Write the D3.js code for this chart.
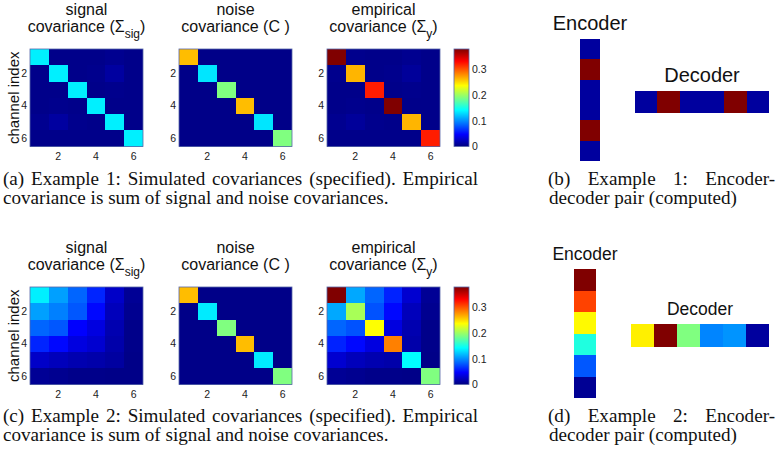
<!DOCTYPE html>
<html><head><meta charset="utf-8">
<script src="https://cdn.jsdelivr.net/npm/d3@7/dist/d3.min.js"></script>
<style>body{margin:0;background:#fff}svg{display:block}</style>
</head><body>
<svg id="c" width="777" height="449"></svg>
<script>
// ---------- data ----------
const idx = [1, 2, 3, 4, 5, 6];
const tickVals = [2, 4, 6];
const cbTicks = [0, 0.1, 0.2, 0.3];
const cbDomain = [0, 0.38];

const sig1 = [
  [0.137, 0.004, 0.004, 0.004, 0.006, 0.004],
  [0.004, 0.137, 0.004, 0.005, 0.012, 0.004],
  [0.004, 0.004, 0.137, 0.004, 0.005, 0.004],
  [0.004, 0.005, 0.004, 0.137, 0.004, 0.004],
  [0.006, 0.012, 0.005, 0.004, 0.137, 0.004],
  [0.004, 0.004, 0.004, 0.004, 0.004, 0.137]];
const noise1 = [
  [0.262, 0.003, 0.003, 0.003, 0.003, 0.003],
  [0.003, 0.133, 0.003, 0.003, 0.003, 0.003],
  [0.003, 0.003, 0.190, 0.003, 0.003, 0.003],
  [0.003, 0.003, 0.003, 0.262, 0.003, 0.003],
  [0.003, 0.003, 0.003, 0.003, 0.133, 0.003],
  [0.003, 0.003, 0.003, 0.003, 0.003, 0.190]];
const emp1 = [
  [0.400, 0.005, 0.004, 0.004, 0.006, 0.004],
  [0.005, 0.265, 0.004, 0.005, 0.010, 0.004],
  [0.004, 0.004, 0.322, 0.004, 0.005, 0.004],
  [0.004, 0.005, 0.004, 0.400, 0.004, 0.004],
  [0.006, 0.010, 0.005, 0.004, 0.265, 0.004],
  [0.004, 0.004, 0.004, 0.004, 0.004, 0.322]];
const sig2 = [
  [0.137, 0.107, 0.085, 0.061, 0.027, 0.008],
  [0.107, 0.095, 0.080, 0.050, 0.022, 0.006],
  [0.085, 0.080, 0.047, 0.036, 0.018, 0.004],
  [0.061, 0.050, 0.036, 0.030, 0.016, 0.004],
  [0.027, 0.022, 0.018, 0.016, 0.012, 0.003],
  [0.008, 0.006, 0.004, 0.004, 0.003, 0.003]];
const noise2 = [
  [0.262, 0.003, 0.003, 0.003, 0.003, 0.003],
  [0.003, 0.135, 0.003, 0.003, 0.003, 0.003],
  [0.003, 0.003, 0.190, 0.003, 0.003, 0.003],
  [0.003, 0.003, 0.003, 0.262, 0.003, 0.003],
  [0.003, 0.003, 0.003, 0.003, 0.135, 0.003],
  [0.003, 0.003, 0.003, 0.003, 0.003, 0.190]];
const emp2 = [
  [0.400, 0.110, 0.085, 0.060, 0.030, 0.008],
  [0.110, 0.205, 0.078, 0.050, 0.022, 0.006],
  [0.085, 0.078, 0.237, 0.036, 0.018, 0.004],
  [0.060, 0.050, 0.036, 0.285, 0.016, 0.004],
  [0.030, 0.022, 0.018, 0.016, 0.142, 0.003],
  [0.008, 0.006, 0.004, 0.004, 0.003, 0.190]];

// encoder / decoder weights (normalised 0..1 on the jet map)
const enc1 = [0.03, 1, 0.03, 0.03, 1, 0.03];
const dec1 = [0.03, 1, 0.03, 0.03, 1, 0.03];
const enc2 = [1, 0.81, 0.63, 0.405, 0.21, 0.02];
const dec2 = [0.64, 1, 0.5, 0.255, 0.27, 0.03];

const captions = {
  a: ["(a) Example 1: Simulated covariances (specified). Empirical", "covariance is sum of signal and noise covariances."],
  b: ["(b) Example 1: Encoder-", "decoder pair (computed)"],
  c: ["(c) Example 2: Simulated covariances (specified). Empirical", "covariance is sum of signal and noise covariances."],
  d: ["(d) Example 2: Encoder-", "decoder pair (computed)"]
};

// ---------- helpers ----------
const svg = d3.select("#c");
const SANS = "'Liberation Sans', Arial, sans-serif";
const SERIF = "'Liberation Serif', 'Times New Roman', serif";

function jet(t) {
  t = Math.max(0, Math.min(1, t));
  const c = v => Math.round(255 * Math.max(0, Math.min(1, v)));
  return `rgb(${c(1.5 - Math.abs(4 * t - 3))},${c(1.5 - Math.abs(4 * t - 2))},${c(1.5 - Math.abs(4 * t - 1))})`;
}
const cScale = d3.scaleLinear().domain(cbDomain).range([0, 1]).clamp(true);
const colorOf = v => jet(cScale(v));

// gradient for colorbar
const defs = svg.append("defs");
const grad = defs.append("linearGradient").attr("id", "jetg")
  .attr("x1", 0).attr("y1", 1).attr("x2", 0).attr("y2", 0);
d3.range(0, 1.0001, 1 / 32).forEach(t => grad.append("stop").attr("offset", t).attr("stop-color", jet(t)));

const matX = [30, 179, 327];
const matW = 113;
const titles = [
  ["signal", "covariance (", "\u03A3", "sig", ")"],
  ["noise", "covariance (C )", null, null, null],
  ["empirical", "covariance (", "\u03A3", "y", ")"]
];

function drawPanel(top, mats) {
  const h = 97.5;
  mats.forEach((m, k) => {
    const g = svg.append("g");
    const x = d3.scaleBand().domain(idx).range([matX[k], matX[k] + matW]);
    const y = d3.scaleBand().domain(idx).range([top, top + h]);
    const cells = [];
    m.forEach((row, i) => row.forEach((v, j) => cells.push({ r: idx[i], c: idx[j], v })));
    g.selectAll("rect.cell").data(cells).join("rect")
      .attr("x", d => Math.round(x(d.c))).attr("y", d => Math.round(y(d.r)))
      .attr("width", d => Math.round(x(d.c) + x.bandwidth()) - Math.round(x(d.c)) + (d.c < 6 ? 1 : 0))
      .attr("height", d => Math.round(y(d.r) + y.bandwidth()) - Math.round(y(d.r)) + (d.r < 6 ? 1 : 0))
      .attr("shape-rendering", "crispEdges")
      .attr("fill", d => colorOf(d.v));
    g.append("rect").attr("x", matX[k]).attr("y", top).attr("width", matW).attr("height", h)
      .attr("fill", "none").attr("stroke", "#5866a8").attr("stroke-width", 0.8);
    // axes
    const xa = d3.axisBottom(x).tickValues(tickVals).tickSize(0).tickPadding(6);
    const ya = d3.axisLeft(y).tickValues(tickVals).tickSize(0).tickPadding(3);
    const gx = g.append("g").attr("transform", `translate(0,${top + h})`).call(xa);
    const gy = g.append("g").attr("transform", `translate(${matX[k]},0)`).call(ya);
    [gx, gy].forEach(a => {
      a.select(".domain").remove();
      a.selectAll("text").attr("font-family", SANS).attr("font-size", 10.5).attr("fill", "#222");
    });
    // titles
    const cx = matX[k] + matW / 2;
    const t = titles[k];
    g.append("text").attr("x", cx).attr("y", top - 34).attr("text-anchor", "middle")
      .attr("font-family", SANS).attr("font-size", 16).attr("fill", "#111").text(t[0]);
    const t2 = g.append("text").attr("x", cx).attr("y", top - 17).attr("text-anchor", "middle")
      .attr("font-family", SANS).attr("font-size", 16).attr("fill", "#111");
    t2.append("tspan").text(t[1]);
    if (t[2]) {
      t2.append("tspan").text(t[2]);
      t2.append("tspan").attr("dy", 6).attr("font-size", 12).text(t[3]);
      t2.append("tspan").attr("dy", -6).text(t[4]);
    }
  });
  // y label
  svg.append("text").attr("transform", `translate(19,${top + h / 2}) rotate(-90)`)
    .attr("text-anchor", "middle").attr("font-family", SANS).attr("font-size", 15).attr("fill", "#111")
    .text("channel index");
  // colorbar
  const cbx = 454, cbw = 15;
  const cy = d3.scaleLinear().domain(cbDomain).range([top + h, top]);
  svg.append("rect").attr("x", cbx).attr("y", top).attr("width", cbw).attr("height", h)
    .attr("fill", "url(#jetg)").attr("stroke", "#5866a8").attr("stroke-width", 0.8);
  const ca = d3.axisRight(cy).tickValues(cbTicks).tickSize(0).tickPadding(3)
    .tickFormat(d => d === 0 ? "0" : d3.format(".1f")(d));
  const gc = svg.append("g").attr("transform", `translate(${cbx + cbw},0)`).call(ca);
  gc.select(".domain").remove();
  gc.selectAll("text").attr("font-family", SANS).attr("font-size", 10.5).attr("fill", "#222");
}

function drawVec(vals, x0, y0, w, h, vertical) {
  const band = d3.scaleBand().domain(idx).range(vertical ? [y0, y0 + h] : [x0, x0 + w]);
  svg.append("g").selectAll("rect").data(vals.map((v, i) => ({ i: idx[i], v }))).join("rect")
    .attr("x", d => vertical ? x0 : Math.round(band(d.i)))
    .attr("y", d => vertical ? Math.round(band(d.i)) : y0)
    .attr("width", d => vertical ? w : Math.round(band(d.i) + band.bandwidth()) - Math.round(band(d.i)))
    .attr("height", d => vertical ? Math.round(band(d.i) + band.bandwidth()) - Math.round(band(d.i)) : h)
    .attr("shape-rendering", "crispEdges")
    .attr("fill", d => jet(d.v));
}

function label(txt, x, y, size) {
  svg.append("text").attr("x", x).attr("y", y).attr("text-anchor", "middle")
    .attr("font-family", SANS).attr("font-size", size).attr("fill", "#111").text(txt);
}

// caption font size: fit the last line of (a) to its measured width
const probe = svg.append("text").attr("font-family", SERIF).attr("font-size", 14).text(captions.a[1]);
const capSize = 14 * 386 / probe.node().getComputedTextLength();
probe.remove();

function justify(line, x0, x1, y) {
  const words = line.split(" ");
  const g = svg.append("g");
  const nodes = words.map(w => g.append("text").attr("font-family", SERIF).attr("font-size", capSize)
    .attr("fill", "#111").attr("y", y).text(w));
  const widths = nodes.map(n => n.node().getComputedTextLength());
  const gap = (x1 - x0 - d3.sum(widths)) / (words.length - 1);
  let x = x0;
  nodes.forEach((n, i) => { n.attr("x", x); x += widths[i] + gap; });
}
function plain(line, x0, y) {
  svg.append("text").attr("font-family", SERIF).attr("font-size", capSize).attr("fill", "#111")
    .attr("x", x0).attr("y", y).text(line);
}

// ---------- draw ----------
drawPanel(49, [sig1, noise1, emp1]);
drawPanel(287, [sig2, noise2, emp2]);

label("Encoder", 590, 30, 20);
drawVec(enc1, 580, 39, 20, 122, true);
label("Decoder", 702, 82, 20);
drawVec(dec1, 635, 91, 134, 22, false);

label("Encoder", 585, 260, 17.5);
drawVec(enc2, 574, 269, 22, 129, true);
label("Decoder", 700, 315, 17.5);
drawVec(dec2, 631, 324, 138, 23, false);

justify(captions.a[0], 3, 478, 185); plain(captions.a[1], 3, 204);
justify(captions.c[0], 3, 478, 422); plain(captions.c[1], 3, 441);
justify(captions.b[0], 548, 775, 185); plain(captions.b[1], 549, 204);
justify(captions.d[0], 548, 775, 422); plain(captions.d[1], 549, 441);
</script>
</body></html>
